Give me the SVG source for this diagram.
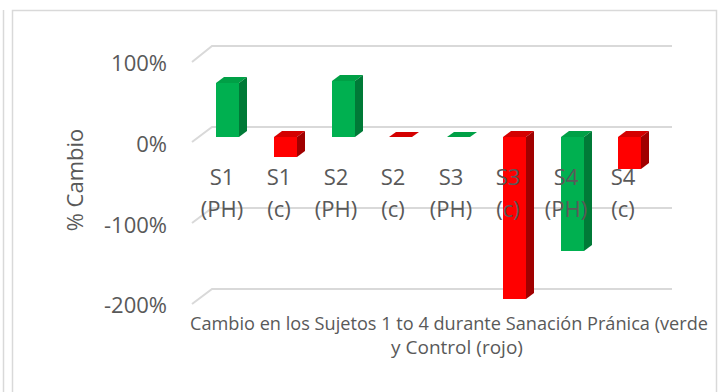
<svg xmlns="http://www.w3.org/2000/svg" width="728" height="392" viewBox="0 0 728 392">
<style>
.grid{fill:none;stroke:#d9d9d9;stroke-width:2}
.frame{fill:none;stroke:#d9d9d9;stroke-width:1.5}
.tick{font-family:"Open Sans","Liberation Sans",sans-serif;font-size:22px;fill:#595959;text-anchor:end}
.cat{font-family:"Open Sans","Liberation Sans",sans-serif;font-size:22px;fill:#595959;text-anchor:middle}
.title{font-family:"Open Sans","Liberation Sans",sans-serif;font-size:19px;fill:#595959}
.gf{fill:#00B050}.gs{fill:#007A37}.gt{fill:#00A046}
.rf{fill:#FF0000}.rs{fill:#A00000}.rt{fill:#D40000}
</style>
<rect x="0" y="0" width="728" height="392" fill="#ffffff"/>
<line x1="3.5" y1="10" x2="3.5" y2="392" class="frame"/>
<path d="M12.5 392 V10.5 H716.5 V392" class="frame"/>
<g id="gridlines">
<polyline class="grid" points="192,62 212,46 672,46"/>
<polyline class="grid" points="192,142 212,127 672,127"/>
<polyline class="grid" points="192,223 212,208 672,208"/>
<polyline class="grid" points="192,304 212,289 672,289"/>
</g>
<g id="axis-labels">
<text class="tick" x="167" y="71">100%</text>
<text class="tick" x="167" y="152">0%</text>
<text class="tick" x="167" y="233">-100%</text>
<text class="tick" x="167" y="313">-200%</text>
<text class="cat" transform="translate(83,180) rotate(-90)">% Cambio</text>
</g>
<g id="bars">
<g id="bar-s1-ph">
<polygon class="gt" points="216,83 239,83 247,77 224,77"/>
<polygon class="gs" points="239,83 247,77 247,131 239,137"/>
<rect class="gf" x="216" y="83" width="23" height="54"/>
</g>
<g id="bar-s1-c">
<polygon class="rt" points="274,137 297,137 305,131 282,131"/>
<polygon class="rs" points="297,137 305,131 305,151 297,157"/>
<rect class="rf" x="274" y="137" width="23" height="20"/>
</g>
<g id="bar-s2-ph">
<polygon class="gt" points="332,81 355,81 363,75 340,75"/>
<polygon class="gs" points="355,81 363,75 363,131 355,137"/>
<rect class="gf" x="332" y="81" width="23" height="56"/>
</g>
<g id="bar-s2-c">
<polygon class="rt" points="389,137 412,137 419,132 396,132"/>
</g>
<g id="bar-s3-ph">
<polygon class="gt" points="447,137 470,137 477,132 454,132"/>
</g>
<g id="bar-s3-c">
<polygon class="rt" points="503,137 526,137 534,131 511,131"/>
<polygon class="rs" points="526,137 534,131 534,293 526,299"/>
<rect class="rf" x="503" y="137" width="23" height="162"/>
</g>
<g id="bar-s4-ph">
<polygon class="gt" points="561,137 584,137 592,131 569,131"/>
<polygon class="gs" points="584,137 592,131 592,245 584,251"/>
<rect class="gf" x="561" y="137" width="23" height="114"/>
</g>
<g id="bar-s4-c">
<polygon class="rt" points="618,137 641,137 649,131 626,131"/>
<polygon class="rs" points="641,137 649,131 649,163 641,169"/>
<rect class="rf" x="618" y="137" width="23" height="32"/>
</g>
</g>
<g id="category-labels">
<text class="cat" x="222" y="185">S1</text><text class="cat" x="222" y="217">(PH)</text>
<text class="cat" x="279" y="185">S1</text><text class="cat" x="279" y="217">(c)</text>
<text class="cat" x="336" y="185">S2</text><text class="cat" x="336" y="217">(PH)</text>
<text class="cat" x="393" y="185">S2</text><text class="cat" x="393" y="217">(c)</text>
<text class="cat" x="451" y="185">S3</text><text class="cat" x="451" y="217">(PH)</text>
<text class="cat" x="508" y="185">S3</text><text class="cat" x="508" y="217">(c)</text>
<text class="cat" x="566" y="185">S4</text><text class="cat" x="566" y="217">(PH)</text>
<text class="cat" x="623" y="185">S4</text><text class="cat" x="623" y="217">(c)</text>
</g>
<g id="chart-title">
<text class="title" x="190" y="330" textLength="518" lengthAdjust="spacingAndGlyphs">Cambio en los Sujetos 1 to 4 durante Sanación Pránica (verde</text>
<text class="title" x="457" y="354" text-anchor="middle">y Control (rojo)</text>
</g>
</svg>
